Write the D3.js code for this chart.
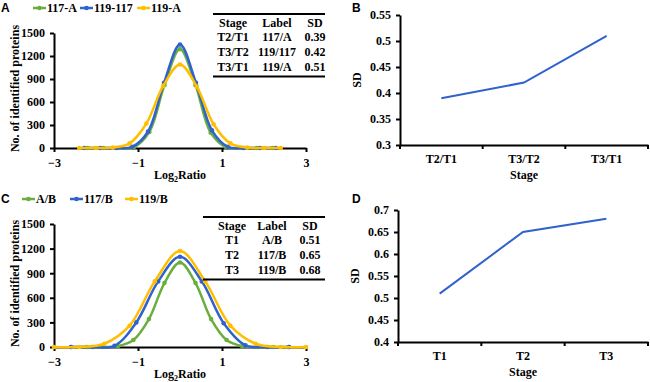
<!DOCTYPE html>
<html>
<head>
<meta charset="utf-8">
<script src="https://cdn.jsdelivr.net/npm/d3@7"></script>
<style>
  body { margin: 0; background: #fff; }
  svg text { font-family: "Liberation Serif", "Times New Roman", serif; font-weight: bold; }
  svg text.letter { font-family: "Liberation Sans", Arial, sans-serif; }
</style>
</head>
<body>
<div id="chart"></div>
<script>
// Panel A: distribution of log2 ratios
var a117X = [-2.2, -1.83, -1.47, -1.1, -0.73, -0.37, 0, 0.37, 0.73, 1.1, 1.47, 1.83, 2.2];
var a117Y = [0, 0, 0, 10, 210, 820, 1290, 820, 200, 10, 0, 0, 0];
var a119117X = [-2.28, -1.9, -1.52, -1.14, -0.76, -0.38, 0, 0.38, 0.76, 1.14, 1.52, 1.9, 2.28];
var a119117Y = [0, 0, 0, 15, 215, 850, 1350, 850, 230, 15, 0, 0, 0];
var a119X = [-2.4, -2.0, -1.6, -1.2, -0.8, -0.4, 0, 0.4, 0.8, 1.2, 1.6, 2.0, 2.4];
var a119Y = [0, 0, 5, 60, 320, 810, 1090, 800, 310, 60, 5, 0, 0];

// Panel C
var cABX = [-2.59, -2.22, -1.85, -1.48, -1.11, -0.74, -0.37, 0, 0.37, 0.74, 1.11, 1.48, 1.85, 2.22, 2.59];
var cABY = [0, 0, 0, 10, 85, 340, 780, 1030, 780, 340, 85, 10, 0, 0, 0];
var c117X = [-2.6, -2.08, -1.56, -1.04, -0.52, 0, 0.52, 1.04, 1.56, 2.08, 2.6];
var c117Y = [0, 0, 15, 300, 800, 1100, 800, 290, 20, 0, 0];
var c119X = [-3, -2.4, -1.8, -1.2, -0.6, 0, 0.6, 1.2, 1.8, 2.4, 3];
var c119Y = [0, 0, 40, 260, 800, 1170, 800, 260, 40, 0, 0];

// Tables and SD panels
var stagesB = ["T2/T1", "T3/T2", "T3/T1"];
var labelsB = ["117/A", "119/117", "119/A"];
var sdB = [0.39, 0.42, 0.51];
var stagesD = ["T1", "T2", "T3"];
var labelsD = ["A/B", "117/B", "119/B"];
var sdD = [0.51, 0.65, 0.68];

var countTicks = [0, 300, 600, 900, 1200, 1500];
var ratioTicks = [-3, -1, 1, 3];
var sdTicksB = [0.3, 0.35, 0.4, 0.45, 0.5, 0.55];
var sdTicksD = [0.4, 0.45, 0.5, 0.55, 0.6, 0.65, 0.7];

var green = "#6aae3e", blue = "#2f62cc", yellow = "#ffbf00";
var fs = 12;

var svg = d3.select("#chart").append("svg")
    .attr("width", 650).attr("height", 382);

function zip(xs, ys) { return xs.map((x, i) => [x, ys[i]]); }

function styleAxis(g) {
  g.selectAll("path, line").attr("stroke", "#000").attr("stroke-width", 2);
  g.selectAll("text").attr("font-size", fs).attr("fill", "#000");
}

function distPanel(opt) {
  var x = d3.scaleLinear().domain([-3, 3]).range([opt.x0, opt.x1]);
  var y = d3.scaleLinear().domain([0, 1500]).range([opt.y0, opt.y1]);

  svg.append("g").attr("transform", "translate(0," + opt.y0 + ")")
    .call(d3.axisBottom(x).tickValues(ratioTicks).tickFormat(d3.format("d"))
      .tickSize(4).tickSizeOuter(0).tickPadding(6))
    .call(styleAxis);
  svg.append("g").attr("transform", "translate(" + opt.x0 + ",0)")
    .call(d3.axisLeft(y).tickValues(countTicks).tickFormat(d3.format("d"))
      .tickSize(4).tickSizeOuter(0).tickPadding(5))
    .call(styleAxis);

  var line = d3.line().x(d => x(d[0])).y(d => y(d[1])).curve(d3.curveCatmullRom.alpha(0.5));
  opt.series.forEach(s => {
    var pts = zip(s.x, s.y);
    svg.append("path").datum(pts).attr("d", line)
      .attr("fill", "none").attr("stroke", s.color).attr("stroke-width", 2.5);
    svg.append("g").selectAll("circle").data(pts).enter().append("circle")
      .attr("cx", d => x(d[0])).attr("cy", d => y(d[1])).attr("r", 2.3)
      .attr("fill", s.color);
  });

  // axis titles
  var xt = svg.append("text").attr("x", (opt.x0 + opt.x1) / 2).attr("y", opt.y0 + 31)
    .attr("text-anchor", "middle").attr("font-size", fs);
  xt.append("tspan").text("Log");
  xt.append("tspan").attr("font-size", 8).attr("dy", 3).text("2");
  xt.append("tspan").attr("dy", -3).text("Ratio");
  svg.append("text").attr("transform", "translate(19," + ((opt.y0 + opt.y1) / 2 - 2) + ") rotate(-90)")
    .attr("text-anchor", "middle").attr("font-size", fs).text("No. of identified proteins");

  // panel letter
  svg.append("text").attr("class", "letter").attr("x", 1).attr("y", opt.top + 12).text(opt.letter)
    .attr("font-size", 12);

  // legend
  var lx = opt.legendX;
  opt.series.forEach((s, i) => {
    var g = svg.append("g").attr("transform", "translate(" + lx[i] + "," + (opt.top + 8) + ")");
    g.append("line").attr("x1", 0).attr("x2", 13).attr("stroke", s.color).attr("stroke-width", 2.5);
    g.append("circle").attr("cx", 6.5).attr("r", 2.3).attr("fill", s.color);
    g.append("text").attr("x", 14).attr("y", 4).attr("font-size", fs).text(s.name);
  });

  // table
  var t = opt.table;
  var yBot = t.yTop + 12.5 + 3 * 14.8 + 5.5;
  [t.yTop, yBot].forEach(yy => {
    svg.append("line").attr("x1", t.x0).attr("x2", 325).attr("y1", yy).attr("y2", yy)
      .attr("stroke", "#000").attr("stroke-width", 2);
  });
  var rows = [["Stage", "Label", "SD"]].concat(t.stages.map((st, i) => [st, t.labels[i], t.sd[i].toFixed(2)]));
  rows.forEach((r, i) => {
    r.forEach((c, j) => {
      svg.append("text").attr("x", t.cols[j]).attr("y", t.yTop + 12.5 + i * 14.8)
        .attr("text-anchor", "middle").attr("font-size", fs).text(c);
    });
  });
}

function sdPanel(opt) {
  var x = d3.scaleBand().domain(opt.cats).range([opt.x0, opt.x1]);
  var y = d3.scaleLinear().domain(opt.domain).range([opt.y0, opt.y1]);

  svg.append("g").attr("transform", "translate(0," + opt.y0 + ")")
    .call(d3.axisBottom(x).tickSize(0).tickPadding(9))
    .call(styleAxis);
  // Excel-style ticks on category boundaries
  var edges = opt.cats.map(c => x(c)).concat([x(opt.cats[opt.cats.length - 1]) + x.bandwidth()]);
  svg.append("g").selectAll("line").data(edges).enter().append("line")
    .attr("x1", d => d).attr("x2", d => d).attr("y1", opt.y0).attr("y2", opt.y0 + 4)
    .attr("stroke", "#000").attr("stroke-width", 2);
  svg.append("g").attr("transform", "translate(" + opt.x0 + ",0)")
    .call(d3.axisLeft(y).tickValues(opt.ticks).tickSize(4).tickSizeOuter(0).tickPadding(5)
      .tickFormat(d => +d.toFixed(2) + ""))
    .call(styleAxis);

  var line = d3.line().x((d, i) => x(opt.cats[i]) + x.bandwidth() / 2).y(d => y(d));
  svg.append("path").datum(opt.values).attr("d", line)
    .attr("fill", "none").attr("stroke", blue).attr("stroke-width", 2);

  svg.append("text").attr("x", (opt.x0 + opt.x1) / 2).attr("y", opt.y0 + 34)
    .attr("text-anchor", "middle").attr("font-size", fs).text("Stage");
  svg.append("text").attr("transform", "translate(" + (opt.x0 - 39) + "," + ((opt.y0 + opt.y1) / 2) + ") rotate(-90)")
    .attr("text-anchor", "middle").attr("font-size", fs).text("SD");
  svg.append("text").attr("class", "letter").attr("x", 352).attr("y", opt.top + 12).text(opt.letter)
    .attr("font-size", 12);
}

distPanel({
  letter: "A", top: 0, x0: 54, x1: 306, y0: 148, y1: 33,
  legendX: [33, 80, 137],
  series: [
    { name: "117-A", x: a117X, y: a117Y, color: green },
    { name: "119-117", x: a119117X, y: a119117Y, color: blue },
    { name: "119-A", x: a119X, y: a119Y, color: yellow }
  ],
  table: { x0: 213, yTop: 14, cols: [233, 277, 315], stages: stagesB, labels: labelsB, sd: sdB }
});

distPanel({
  letter: "C", top: 191, x0: 54, x1: 306, y0: 347, y1: 224,
  legendX: [22, 70, 125],
  series: [
    { name: "A/B", x: cABX, y: cABY, color: green },
    { name: "117/B", x: c117X, y: c117Y, color: blue },
    { name: "119/B", x: c119X, y: c119Y, color: yellow }
  ],
  table: { x0: 203, yTop: 217, cols: [232, 272, 310], stages: stagesD, labels: labelsD, sd: sdD }
});

sdPanel({ letter: "B", top: 0, cats: stagesB, values: sdB, domain: [0.3, 0.55], ticks: sdTicksB,
  x0: 400, x1: 648, y0: 145, y1: 15 });
sdPanel({ letter: "D", top: 191, cats: stagesD, values: sdD, domain: [0.4, 0.7], ticks: sdTicksD,
  x0: 398, x1: 648, y0: 342, y1: 210 });
</script>
</body>
</html>
